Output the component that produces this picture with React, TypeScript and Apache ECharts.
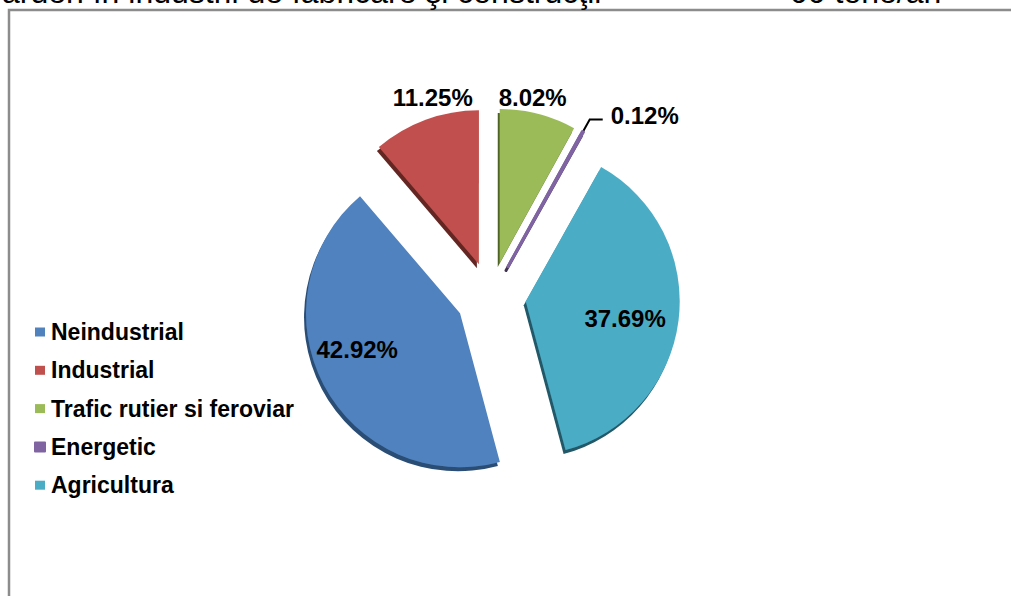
import React, { useEffect, useRef } from "react";
import * as echarts from "echarts";

const categories = ["Neindustrial", "Industrial", "Trafic rutier si feroviar", "Energetic", "Agricultura"];
const shares = [42.92, 11.25, 8.02, 0.12, 37.69];
const colors = ["#5082be", "#c0504d", "#9bbb59", "#8064a2", "#4bacc6"];
const rimColors = ["#2c4d75", "#632523", "#4f6228", "#3f3151", "#215968"];
const labelPlacement = ["inside", "outside", "outside", "outside", "inside"];
const labelShift = [
  [-32, -1],
  [70, -9],
  [-61, -3],
  [3, -4],
  [20, 7],
];
const titleLeft = "arderi în industrii de fabricare şi construcţii";
const titleRight = "00 tone/an";

export default function App() {
  const ref = useRef<HTMLDivElement>(null);
  useEffect(() => {
    if (!ref.current) return;
    const chart = echarts.init(ref.current, null, { renderer: "svg" });
    const data = categories.map((name, i) => ({
      name,
      value: shares[i],
      selected: true,
      itemStyle: {
        color: colors[i],
        borderColor: colors[i],
        borderWidth: i === 3 ? 3 : 0,
        shadowColor: rimColors[i],
        shadowOffsetX: -2,
        shadowOffsetY: 4,
        shadowBlur: 0,
      },
      label: {
        position: labelPlacement[i],
      },
      labelLine: {
        show: i === 3,
      },
    }));
    chart.setOption({
      animation: false,
      backgroundColor: "#ffffff",
      graphic: [
        {
          type: "rect",
          shape: { x: 9, y: 10, width: 1020, height: 620 },
          style: { fill: "none", stroke: "#8c8c8c", lineWidth: 2.5 },
          silent: true,
        },
        {
          type: "text",
          x: 2,
          y: 7.5,
          style: {
            text: titleLeft,
            font: "32px Arial, 'Liberation Sans', sans-serif",
            fill: "#000",
            verticalAlign: "bottom",
          },
        },
        {
          type: "text",
          x: 790,
          y: 7.5,
          style: {
            text: titleRight,
            font: "32px Arial, 'Liberation Sans', sans-serif",
            fill: "#000",
            verticalAlign: "bottom",
          },
        },
      ],
      legend: {
        orient: "vertical",
        left: 34,
        top: 320.5,
        padding: 0,
        itemWidth: 10,
        itemHeight: 9,
        itemGap: 15.3,
        icon: "rect",
        selectedMode: false,
        textStyle: {
          fontFamily: "Arial, 'Liberation Sans', sans-serif",
          fontWeight: "bold",
          fontSize: 23,
          lineHeight: 22,
          color: "#000",
          padding: [0, 0, 0, 1],
        },
        data: categories,
      },
      series: [
        {
          type: "pie",
          center: [491, 297],
          radius: 154,
          startAngle: -75,
          clockwise: true,
          selectedMode: "multiple",
          selectedOffset: 35,
          avoidLabelOverlap: false,
          label: {
            show: true,
            formatter: (p: any) => p.value.toFixed(2) + "%",
            fontFamily: "Arial, 'Liberation Sans', sans-serif",
            fontWeight: "bold",
            fontSize: 24,
            color: "#000",
          },
          labelLine: {
            length: 14,
            length2: 13,
            lineStyle: { color: "#000", width: 2 },
          },
          labelLayout: (p: any) => ({
            hideOverlap: false,
            dx: labelShift[p.dataIndex][0],
            dy: labelShift[p.dataIndex][1],
          }),
          emphasis: { disabled: true },
          data,
        },
      ],
    });
    return () => chart.dispose();
  }, []);
  return (
    <div
      ref={ref}
      style={{ position: "absolute", left: 0, top: 0, width: 1011, height: 596 }}
    />
  );
}
